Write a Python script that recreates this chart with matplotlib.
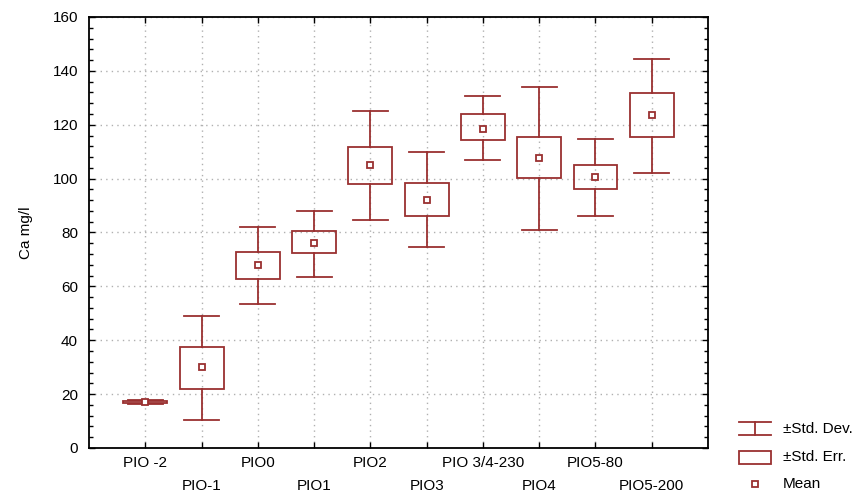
import numpy as np
import matplotlib.pyplot as plt
from matplotlib.patches import Rectangle

plt.rcParams['font.family'] = ['Liberation Sans', 'DejaVu Sans']

labels = ['PIO -2', 'PIO-1', 'PIO0', 'PIO1', 'PIO2', 'PIO3',
          'PIO 3/4-230', 'PIO4', 'PIO5-80', 'PIO5-200']
means = [17, 30, 68, 76, 105, 92, 118.5, 107.5, 100.5, 123.5]
se_lo = [16.6, 22, 62.8, 72.4, 98, 86.1, 114.3, 100.3, 96.1, 115.4]
se_hi = [17.4, 37.5, 72.9, 80.5, 111.8, 98.3, 124, 115.4, 105, 131.8]
sd_lo = [16.3, 10.3, 53.5, 63.5, 84.6, 74.6, 106.9, 80.9, 86.1, 102]
sd_hi = [17.7, 49, 82, 88, 125, 110, 130.6, 134, 114.8, 144.4]

col = '#9a3030'
lw = 1.3
box_w = 0.78
cap_w = 0.62
fs = 11

fig = plt.figure(figsize=(8.66, 4.97), dpi=100)
ax = fig.add_axes([0.1028, 0.0986, 0.7148, 0.8672])

x = np.arange(1, len(labels) + 1)
for i in range(len(labels)):
    xi = x[i]
    ax.plot([xi, xi], [sd_lo[i], se_lo[i]], color=col, lw=lw, zorder=3)
    ax.plot([xi, xi], [se_hi[i], sd_hi[i]], color=col, lw=lw, zorder=3)
    ax.plot([xi - cap_w / 2, xi + cap_w / 2], [sd_lo[i], sd_lo[i]], color=col, lw=lw, zorder=3)
    ax.plot([xi - cap_w / 2, xi + cap_w / 2], [sd_hi[i], sd_hi[i]], color=col, lw=lw, zorder=3)
    ax.add_patch(Rectangle((xi - box_w / 2, se_lo[i]), box_w, se_hi[i] - se_lo[i],
                           fill=False, edgecolor=col, lw=lw, zorder=3))
ax.plot(x, means, ls='none', marker='s', ms=5, mfc='white', mec=col, mew=1.3, zorder=4)

ax.set_xlim(0, len(labels) + 1)
ax.set_ylim(0, 160)
ax.set_yticks(np.arange(0, 161, 20))
ax.set_yticks(np.arange(0, 161, 4), minor=True)
ax.set_xticks(x)
ax.set_xticklabels([l if i % 2 == 0 else '\n' + l for i, l in enumerate(labels)])
for t in ax.get_xticklabels()[1::2]:
    t.set_linespacing(1.75)
ax.tick_params(axis='both', which='both', direction='in', top=True, right=True,
               labelsize=fs, color='black')
ax.tick_params(axis='both', which='major', length=4, width=1)
ax.tick_params(axis='y', which='minor', length=3, width=1)
ax.tick_params(axis='x', which='major', pad=6)
ax.tick_params(axis='y', which='major', pad=8)
ax.grid(True, which='major', ls=(0, (1, 3)), color='#b0b0b0', lw=1)
for s in ax.spines.values():
    s.set_linewidth(1.3)
ax.set_ylabel('Ca mg/l', fontsize=fs, labelpad=14)

# legend
lax = fig.add_axes([0.85, 0.0, 0.15, 0.17])
lax.set_xlim(0, 1)
lax.set_ylim(0, 1)
lax.axis('off')
ys = [0.81, 0.47, 0.155]
lax.plot([0.02, 0.27], [ys[0] + 0.08, ys[0] + 0.08], color=col, lw=lw)
lax.plot([0.02, 0.27], [ys[0] - 0.08, ys[0] - 0.08], color=col, lw=lw)
lax.plot([0.145, 0.145], [ys[0] - 0.08, ys[0] + 0.08], color=col, lw=lw)
lax.add_patch(Rectangle((0.02, ys[1] - 0.08), 0.25, 0.16, fill=False, edgecolor=col, lw=lw))
lax.plot([0.145], [ys[2]], marker='s', ms=5, mfc='white', mec=col, mew=1.3)
for yy, t in zip(ys, ['±Std. Dev.', '±Std. Err.', 'Mean']):
    lax.text(0.36, yy, t, fontsize=fs, va='center', ha='left')

fig.savefig('out.png', dpi=100)
